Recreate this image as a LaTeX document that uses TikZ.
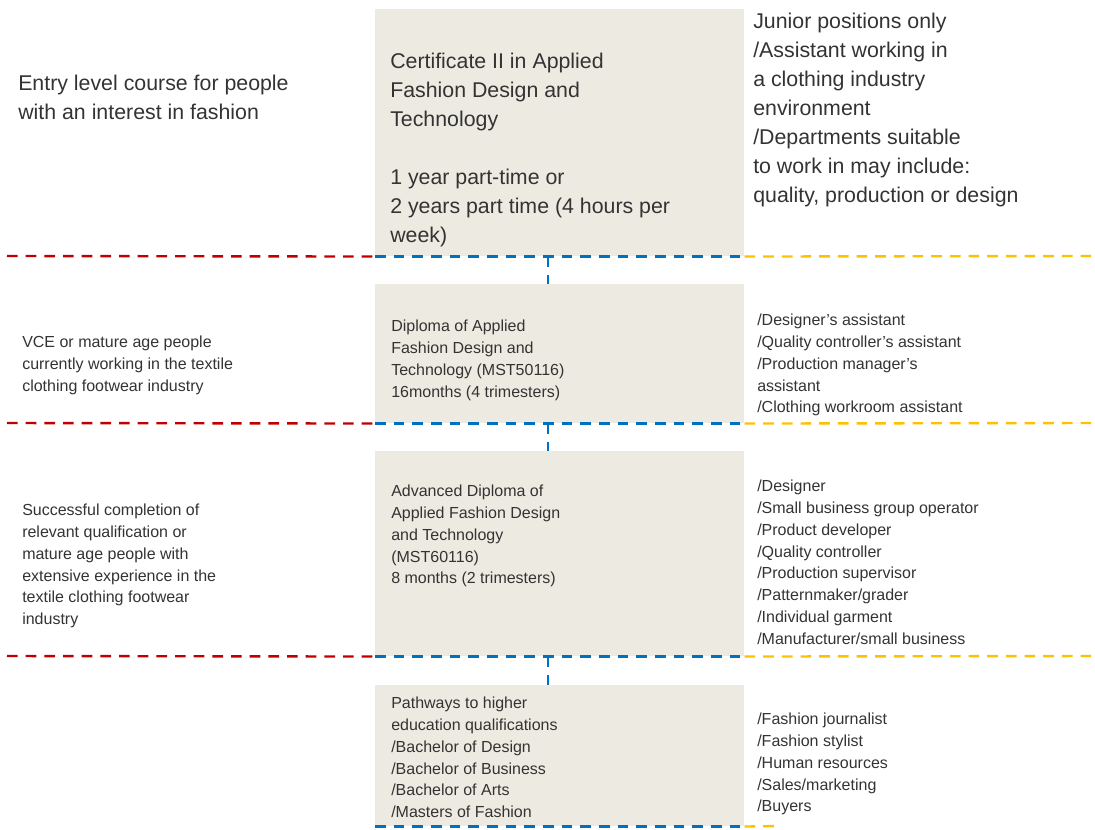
\documentclass[tikz,border=0pt]{standalone}
\usepackage{fontspec}
\setmainfont{Liberation Sans}
\usetikzlibrary{calc}
\definecolor{boxfill}{HTML}{EDEBE1}
\definecolor{lred}{HTML}{C00000}
\definecolor{lblue}{HTML}{0070C0}
\definecolor{lyellow}{HTML}{FFC000}
\definecolor{txt}{HTML}{333333}

\begin{document}
\begin{tikzpicture}[x=0.75pt,y=-0.75pt,
  course/.style={fill=boxfill,anchor=north west,inner sep=0pt,minimum width=276.75pt},
  bigtext/.style={anchor=north west,inner sep=0pt,align=left,text=txt,font=\fontsize{16}{21.75}\selectfont},
  smalltext/.style={anchor=north west,inner sep=0pt,align=left,text=txt,font=\fontsize{12}{16.3}\selectfont},
  sep/.style={line width=1.8pt,dash pattern=on 8pt off 6pt}]
\useasboundingbox (0,0) rectangle (1095,829);

% course boxes
\node[course,minimum height=185.25pt] (cert) at (375,9) {};
\node[course,minimum height=104.25pt] (dip) at (375,284) {};
\node[course,minimum height=153.75pt] (adv) at (375,451) {};
\node[course,minimum height=105.75pt] (path) at (375,685) {};

% separators
\foreach \b/\y in {cert/256,dip/423,adv/656} {
  \coordinate (l\b) at (7,\y);
  \coordinate (r\b) at (1091,\y);
  \draw[sep,lred] (l\b) -- (\b.south west);
  \draw[sep,lblue] (\b.south west) -- (\b.south east);
  \draw[sep,lyellow] (\b.south east) -- (r\b);
}
\coordinate (rpath) at (780,826);
\draw[sep,lblue] (path.south west) -- (path.south east);
\draw[sep,lyellow] (path.south east) -- (rpath);

% links between courses
\draw[sep,lblue] ($(cert.south west)+(173,0)$) -- ($(dip.north west)+(173,0)$);
\draw[sep,lblue] ($(dip.south west)+(173,0)$) -- ($(adv.north west)+(173,0)$);
\draw[sep,lblue] ($(adv.south west)+(173,0)$) -- ($(path.north west)+(173,0)$);

% level 1
\node[bigtext] (entry) at (18,75) {Entry level course for people\\with an interest in fashion};
\node[bigtext] (certtext) at (390,53) {Certificate II in Applied\\Fashion Design and\\Technology\\[21.75pt]1 year part-time or\\2 years part time (4 hours per\\week)};
\node[bigtext] (junior) at (753,13) {Junior positions only\\/Assistant working in\\a clothing industry\\environment\\/Departments suitable\\to work in may include:\\quality, production or design};

% level 2
\node[smalltext] (vce) at (22,336) {VCE or mature age people\\currently working in the textile\\clothing footwear industry};
\node[smalltext] (diptext) at (391,320) {Diploma of Applied\\Fashion Design and\\Technology (MST50116)\\16months (4 trimesters)};
\node[smalltext] (assist) at (757,314) {/Designer’s assistant\\/Quality controller’s assistant\\/Production manager’s\\assistant\\/Clothing workroom assistant};

% level 3
\node[smalltext] (done) at (22,504) {Successful completion of\\relevant qualification or\\mature age people with\\extensive experience in the\\textile clothing footwear\\industry};
\node[smalltext] (advtext) at (391,485) {Advanced Diploma of\\Applied Fashion Design\\and Technology\\(MST60116)\\8 months (2 trimesters)};
\node[smalltext] (roles) at (757,480) {/Designer\\/Small business group operator\\/Product developer\\/Quality controller\\/Production supervisor\\/Patternmaker/grader\\/Individual garment\\/Manufacturer/small business};

% level 4
\node[smalltext] (pathtext) at (391,697) {Pathways to higher\\education qualifications\\/Bachelor of Design\\/Bachelor of Business\\/Bachelor of Arts\\/Masters of Fashion};
\node[smalltext] (media) at (757,713) {/Fashion journalist\\/Fashion stylist\\/Human resources\\/Sales/marketing\\/Buyers};
\end{tikzpicture}
\end{document}
